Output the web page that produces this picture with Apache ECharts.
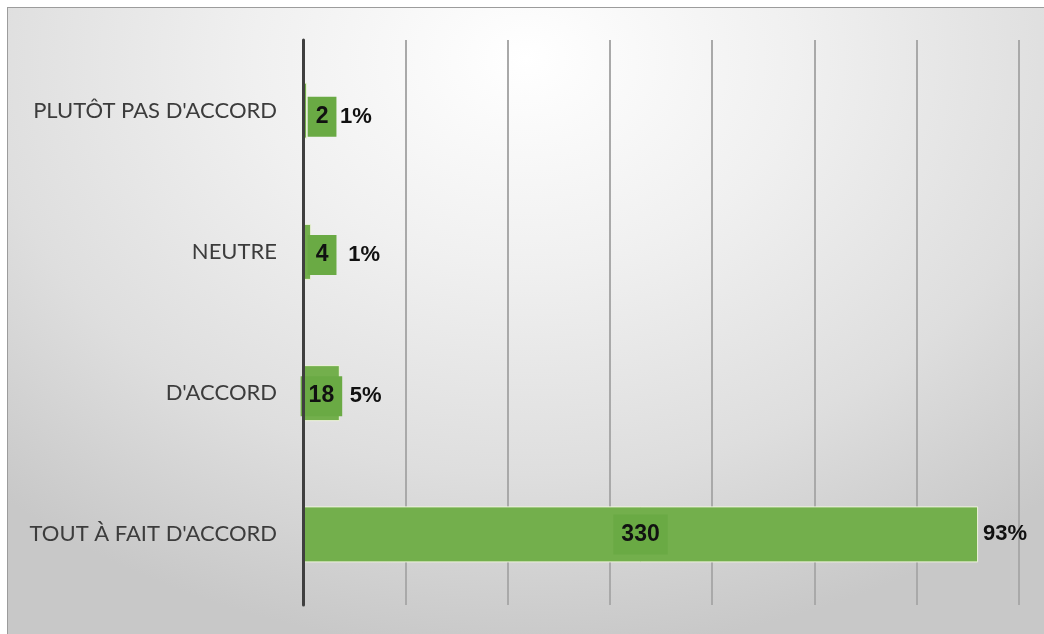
<!DOCTYPE html>
<html>
<head>
<meta charset="utf-8">
<script src="https://cdn.jsdelivr.net/npm/echarts@6/dist/echarts.min.js"></script>
<style>
  html, body { margin: 0; padding: 0; background: #ffffff; width: 1044px; height: 634px; overflow: hidden; }
  #frame {
    position: absolute; left: 7px; top: 7px; width: 1037px; height: 627px;
    box-sizing: border-box;
    border-top: 1px solid #9c9c9c; border-left: 1px solid #9c9c9c;
    background: radial-gradient(ellipse 75% 95% at 50% 8%, #ffffff 0%, #f0f0f0 35%, #dedede 70%, #c8c8c8 100%);
  }
  #chart { width: 1036px; height: 626px; }
</style>
</head>
<body>
<div id="frame"><div id="chart"></div></div>
<script>
// Survey answers, listed bottom to top as drawn on the category axis
const categories = ["TOUT À FAIT D'ACCORD", "D'ACCORD", "NEUTRE", "PLUTÔT PAS D'ACCORD"];
const counts = [330, 18, 4, 2];
const percents = [93, 5, 1, 1];
const axisMin = 0;
const axisMax = 350;
const axisStep = 50;

const chart = echarts.init(document.getElementById('chart'), null, { renderer: 'canvas' });

// nudge labels of very short bars so they sit beside the axis line
const countShift = [[0, 0], [0, 3], [15, 3], [17, 6]];
const percentShift = [[0, 0], [0, 3], [0, 3], [0, 6]];
const percentGap = [5, 10, 37, 33];

const barGreen = '#73af4c';
const categoryFont = 'Lato, "Open Sans", sans-serif';
const valueFont = '"Liberation Sans", Arial, sans-serif';

chart.setOption({
  backgroundColor: 'transparent',
  animation: false,
  grid: { left: 295, top: 32, width: 716, height: 565, containLabel: false },
  xAxis: {
    type: 'value',
    min: axisMin, max: axisMax, interval: axisStep,
    axisLabel: { show: false },
    axisTick: { show: false },
    axisLine: { show: false },
    splitLine: { show: true, lineStyle: { color: '#a9a9a9', width: 2 } }
  },
  yAxis: {
    type: 'category',
    data: categories,
    axisTick: { show: false },
    axisLine: { show: true, lineStyle: { color: '#3f3f3f', width: 3 } },
    axisLabel: { color: '#3c3c3c', fontSize: 22, fontFamily: categoryFont, margin: 26 },
    z: 5
  },
  series: [
    {
      name: 'count',
      type: 'bar',
      barWidth: 56,
      z: 3,
      data: counts.map((v, i) => ({
        value: v,
        label: { offset: countShift[i] }
      })),
      itemStyle: { color: barGreen, borderColor: '#eef3dc', borderWidth: 1 },
      label: {
        show: true,
        position: 'inside',
        formatter: p => String(p.value),
        color: '#111111',
        fontSize: 23,
        fontWeight: 'bold',
        fontFamily: valueFont,
        backgroundColor: '#6aaa44',
        padding: [9, 8, 8, 8]
      }
    },
    {
      name: 'share',
      type: 'bar',
      barWidth: 56,
      barGap: '-100%',
      z: 4,
      silent: true,
      data: counts.map((v, i) => ({
        value: v,
        label: { distance: percentGap[i], offset: percentShift[i] }
      })),
      itemStyle: { color: 'rgba(0,0,0,0)' },
      label: {
        show: true,
        position: 'right',
        formatter: p => percents[p.dataIndex] + '%',
        color: '#111111',
        fontSize: 22,
        fontWeight: 'bold',
        fontFamily: valueFont
      }
    }
  ]
});
</script>
</body>
</html>
